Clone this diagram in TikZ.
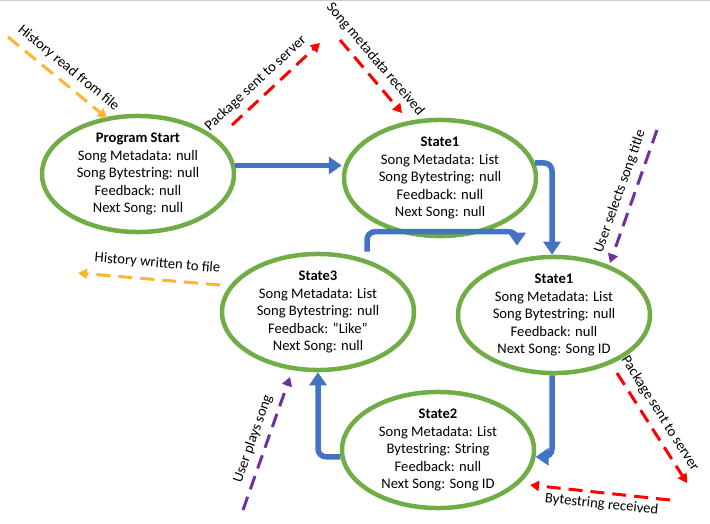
\documentclass[tikz,border=0pt]{standalone}
\usepackage{fontspec}
\setmainfont{Carlito}
\usetikzlibrary{shapes.geometric,arrows.meta}
\definecolor{stgreen}{HTML}{70AD47}
\definecolor{flowblue}{HTML}{4472C4}
\definecolor{evorange}{HTML}{FFB62E}
\definecolor{evred}{HTML}{FF0000}
\definecolor{evpurple}{HTML}{7030A0}
\tikzset{
  state/.style={ellipse, draw=stgreen, line width=4.5pt, minimum width=192pt, minimum height=98pt,
    inner sep=0pt, align=center, font=\fontsize{14.6}{17.5}\selectfont},
  flow/.style={draw=flowblue, line width=5.5pt, rounded corners=8pt,
    -{Triangle[length=13pt,width=17pt]}},
  event/.style={line width=3pt, dash pattern=on 14pt off 8pt,
    -{Triangle[length=9pt,width=10pt]}},
  evlabel/.style={font=\fontsize{14.6}{16}\selectfont, sloped, inner sep=6.5pt, text=black}
}
\begin{document}
\begin{tikzpicture}[x=1pt,y=-1pt]
\useasboundingbox (0,0) rectangle (710,524);
\draw[gray!40, line width=1pt] (0,0.5) -- (710,0.5);
% states
\node[state] (s0) at (138,174) {\textbf{Program Start}\\Song Metadata: null\\Song Bytestring: null\\Feedback: null\\Next Song: null};
\node[state] (s1) at (440,178) {\textbf{State1}\\Song Metadata: List\\Song Bytestring: null\\Feedback: null\\Next Song: null};
\node[state] (s3) at (318,312) {\textbf{State3}\\Song Metadata: List\\Song Bytestring: null\\Feedback: ”Like”\\Next Song: null};
\node[state] (s1r) at (554,315) {\textbf{State1}\\Song Metadata: List\\Song Bytestring: null\\Feedback: null\\Next Song: Song ID};
\node[state] (s2) at (438,450) {\textbf{State2}\\Song Metadata: List\\Bytestring: String\\Feedback: null\\Next Song: Song ID};
% blue flow
\draw[flow] (s0.5) -- (s0.5 -| s1.west);
\draw[flow] (s1.9) -| ([xshift=-2pt]s1r.north);
\draw[flow] ([xshift=-2pt]s1r.south) |- (s2.-4);
\draw[flow] (s2.184) -| (s3.south);
\draw[flow] ([xshift=49pt]s3.north) -- ++(0,-20) -| ([xshift=-37pt,yshift=9pt]s1r.north);
% events
\coordinate (a1) at (8,37);   \coordinate (a2) at (107,118);
\draw[event, evorange] (a1) -- node[evlabel, above, pos=0.52] {History read from file} (a2);
\coordinate (b1) at (232,125); \coordinate (b2) at (320,43);
\draw[event, evred] (b1) -- node[evlabel, above, pos=0.38] {Package sent to server} (b2);
\coordinate (c1) at (340,40); \coordinate (c2) at (402,113);
\draw[event, evred] (c1) -- node[evlabel, above, pos=0.39] {Song metadata received} (c2);
\coordinate (d1) at (657,130); \coordinate (d2) at (610,263);
\draw[event, evpurple] (d1) -- node[evlabel, above, pos=0.5] {User selects song title} (d2);
\coordinate (e1) at (617,373); \coordinate (e2) at (687,483);
\draw[event, evred] (e1) -- node[evlabel, above, pos=0.44] {Package sent to server} (e2);
\coordinate (f1) at (670,500); \coordinate (f2) at (530,485);
\draw[event, evred] (f1) -- node[evlabel, below, pos=0.48, inner sep=4pt] {Bytestring received} (f2);
\coordinate (g1) at (220,285); \coordinate (g2) at (78,273);
\draw[event, evorange] (g1) -- node[evlabel, above, pos=0.45, yshift=2pt] {History written to file} (g2);
\coordinate (h1) at (243,510); \coordinate (h2) at (290,377);
\draw[event, evpurple] (h1) -- node[evlabel, above, pos=0.5] {User plays song} (h2);
\end{tikzpicture}
\end{document}
